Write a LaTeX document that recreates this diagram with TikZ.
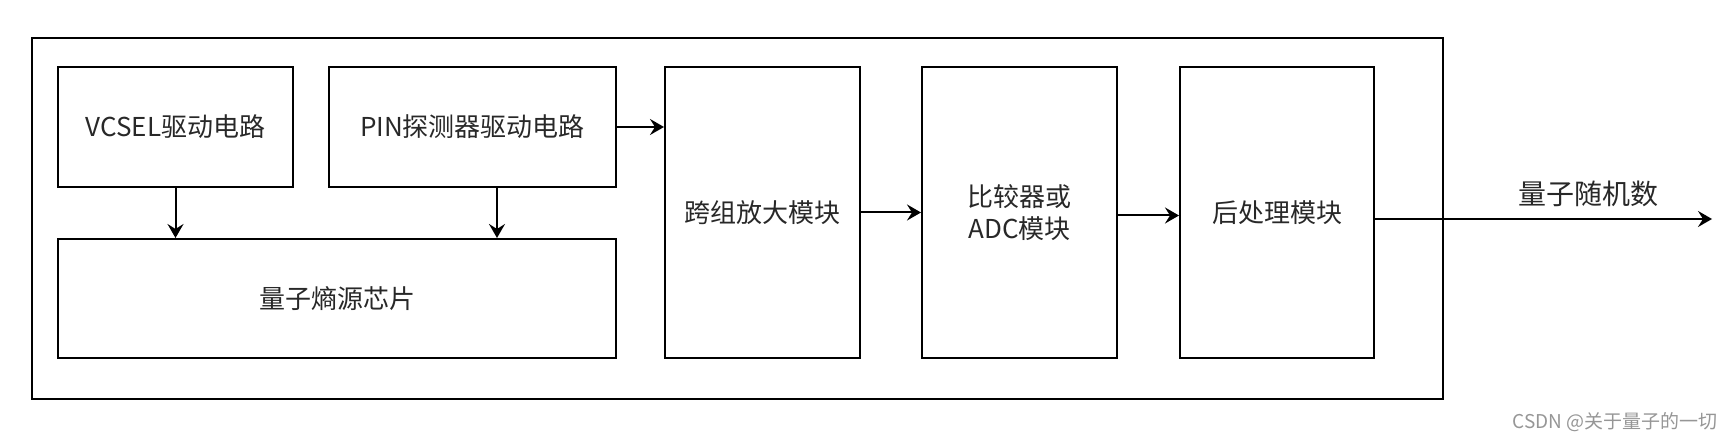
\documentclass[tikz,border=0pt]{standalone}
\usepackage{fontspec}
\usepackage{xcolor}
\usepackage{tikz}
\usetikzlibrary{arrows.meta,positioning}
\setmainfont{Noto Sans CJK SC}
\definecolor{BlockText}{RGB}{40,40,40}
\definecolor{MarkGray}{RGB}{150,150,150}

\begin{document}
\begin{tikzpicture}[x=0.5pt,y=-0.5pt,
    block/.style={draw=black, line width=1pt, align=center, font=\fontsize{13}{16}\selectfont, text=BlockText, inner sep=0pt},
    arr/.style={-{Stealth[length=7pt,width=8pt,inset=2.5pt]}, line width=1pt}]
        \useasboundingbox (0,0) rectangle (1735,442);
        % outer frame
        \node[block, minimum width=705.5pt, minimum height=180.5pt] (frame) at (737.5,218.5) {};
        % drivers and chip
        \node[block, minimum width=117.5pt, minimum height=60pt] (vcsel) at (175.5,127) {VCSEL驱动电路};
        \node[block, minimum width=143.5pt, minimum height=60pt] (pin) at (472.5,127) {PIN探测器驱动电路};
        \node[block, minimum width=279pt, minimum height=59.5pt] (chip) at (337,298.5) {量子熵源芯片};
        % signal chain
        \node[block, minimum width=97.5pt, minimum height=145.5pt] (tia) at (762.5,212.5) {跨组放大模块};
        \node[block, minimum width=97.5pt, minimum height=145.5pt] (cmp) at (1019.5,212.5) {比较器或\\ADC模块};
        \node[block, minimum width=97pt, minimum height=145.5pt] (post) at (1277,212.5) {后处理模块};
        \coordinate (out) at (1712,219);
        \node[font=\fontsize{14}{16}\selectfont, text=BlockText] (outlabel) at (1588,194) {量子随机数};
        % connectors
        \draw[arr] (vcsel.south) -- (vcsel.south |- chip.north);
        \draw[arr] ([xshift=12.25pt]pin.south) -- ([xshift=12.25pt]pin.south |- chip.north);
        \draw[arr] (pin.east) -- (pin.east -| tia.west);
        \draw[arr] (tia.east) -- (cmp.west);
        \draw[arr] ([yshift=-1.5pt]cmp.east) -- ([yshift=-1.5pt]post.west);
        \draw[arr] (post.east |- out) -- (out);
        % watermark
        \node[font=\fontsize{9.5}{11}\selectfont, text=MarkGray] (mark) at (1615,422) {CSDN @关于量子的一切};
\end{tikzpicture}
\end{document}
